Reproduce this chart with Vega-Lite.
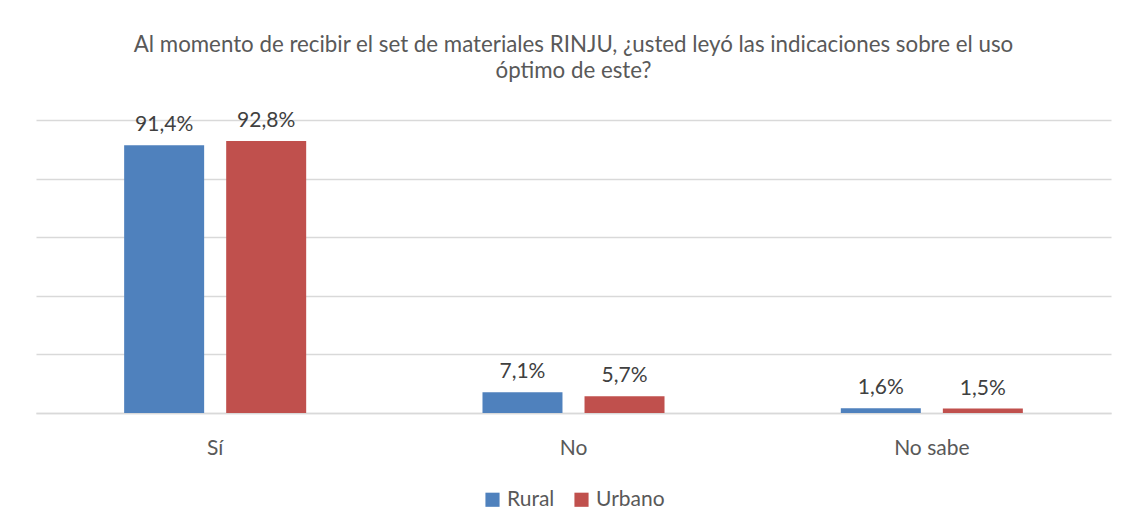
{
  "$schema": "https://vega.github.io/schema/vega-lite/v6.json",
  "autosize": "none",
  "width": 1075,
  "height": 293,
  "padding": {"left": 36, "top": 120, "right": 19, "bottom": 119},
  "background": "white",
  "title": {
    "text": ["Al momento de recibir el set de materiales RINJU, ¿usted leyó las indicaciones sobre el uso", "óptimo de este?"],
    "font": "Lato",
    "fontSize": 22.3,
    "fontWeight": "normal",
    "color": "#595959",
    "lineHeight": 26,
    "anchor": "middle",
    "offset": 28
  },
  "data": {
    "values": [
      {"respuesta": "Sí", "zona": "Rural", "pct": 0.914},
      {"respuesta": "Sí", "zona": "Urbano", "pct": 0.928},
      {"respuesta": "No", "zona": "Rural", "pct": 0.071},
      {"respuesta": "No", "zona": "Urbano", "pct": 0.057},
      {"respuesta": "No sabe", "zona": "Rural", "pct": 0.016},
      {"respuesta": "No sabe", "zona": "Urbano", "pct": 0.015}
    ]
  },
  "encoding": {
    "x": {
      "field": "respuesta",
      "type": "nominal",
      "sort": ["Sí", "No", "No sabe"],
      "scale": {"paddingInner": 0.492, "paddingOuter": 0.246},
      "axis": {
        "title": null,
        "labelAngle": 0,
        "labelFont": "Lato",
        "labelFontSize": 21,
        "labelColor": "#595959",
        "labelPadding": 24,
        "ticks": false,
        "domainColor": "#D9D9D9",
        "domainWidth": 1.3
      }
    },
    "xOffset": {
      "field": "zona",
      "type": "nominal",
      "scale": {"paddingInner": 0.216, "paddingOuter": 0}
    },
    "y": {
      "field": "pct",
      "type": "quantitative",
      "scale": {"domain": [0, 1]},
      "axis": {
        "title": null,
        "labels": false,
        "ticks": false,
        "domain": false,
        "values": [0, 0.2, 0.4, 0.6, 0.8, 1],
        "gridColor": "#D9D9D9",
        "gridWidth": 1.3
      }
    }
  },
  "layer": [
    {
      "mark": {"type": "bar"},
      "encoding": {
        "color": {
          "field": "zona",
          "type": "nominal",
          "scale": {"domain": ["Rural", "Urbano"], "range": ["#4F81BD", "#C0504D"]},
          "legend": {
            "title": null,
            "orient": "bottom",
            "direction": "horizontal",
            "symbolType": "square",
            "symbolSize": 200,
            "symbolStrokeWidth": 0,
            "labelFont": "Lato",
            "labelFontSize": 21,
            "labelColor": "#595959",
            "columnPadding": 16,
            "labelOffset": 4,
            "offset": 31
          }
        }
      }
    },
    {
      "mark": {
        "type": "text",
        "baseline": "bottom",
        "dy": -10,
        "font": "Lato",
        "fontSize": 21,
        "color": "#404040"
      },
      "encoding": {
        "text": {"field": "pct", "type": "quantitative", "format": ".1%"}
      }
    }
  ],
  "config": {
    "locale": {"number": {"decimal": ",", "thousands": ".", "grouping": [3], "currency": ["", " €"]}},
    "view": {"stroke": null},
    "legend": {"layout": {"bottom": {"anchor": "middle"}}}
  }
}
